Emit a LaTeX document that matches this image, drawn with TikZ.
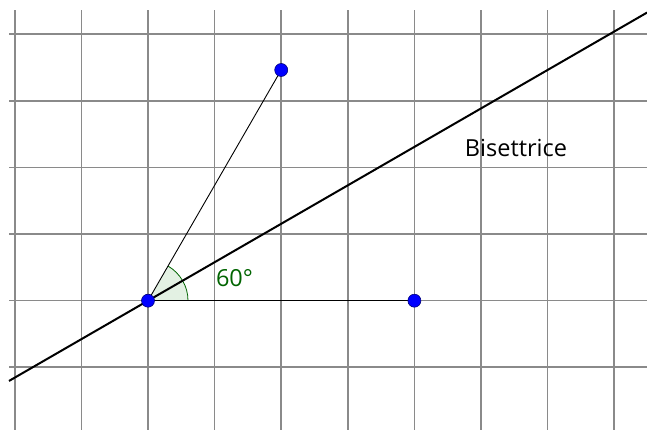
\documentclass[tikz,border=0pt]{standalone}
\usepackage{fontspec}
\setmainfont{Open Sans}
\usetikzlibrary{calc}
\definecolor{gridgray}{HTML}{8A8A8A}
\definecolor{anggreen}{RGB}{0,100,0}
\definecolor{angfill}{HTML}{E3F1E3}
\definecolor{ptblue}{HTML}{0000FF}
\definecolor{ptedge}{HTML}{00007A}
\tikzset{
  gridline/.style={draw=gridgray,line width=1.6pt},
  bisline/.style={draw=black,line width=2pt},
  segline/.style={draw=black,line width=0.9pt},
  pt/.style={circle,fill=ptblue,draw=ptedge,line width=0.6pt,minimum size=13pt,inner sep=0pt},
  lbl/.style={font=\fontsize{23.5}{28}\selectfont,inner sep=0pt,anchor=base}
}
\begin{document}
\begin{tikzpicture}[x=1pt,y=1pt]
\useasboundingbox (0,0) rectangle (647,430);
% grid
\foreach \gx in {14.8,81.4,148,214.6,281.2,347.8,414.4,481,547.6,614.2}
  \draw[gridline] (\gx,0) -- (\gx,420);
\foreach \gy in {62.7,129.3,195.9,262.5,329.1,395.7}
  \draw[gridline] (9,\gy) -- (647,\gy);
% points
\coordinate (A) at (148,129.3);
\coordinate (B) at (414.4,129.3);
\coordinate (C) at (281.2,360);
\coordinate (L) at (9,49.05);
\coordinate (R) at (647,417.4);
% angle
\fill[angfill] (A) -- ++(0:40) arc (0:60:40) -- cycle;
\draw[anggreen,line width=0.8pt] ($(A)+(0:40)$) arc (0:60:40);
% lines
\draw[segline] (A) -- (B);
\draw[segline] (A) -- (C);
\draw[bisline] (L) -- (R);
% dots
\node[pt] (pA) at (A) {};
\node[pt] (pB) at (B) {};
\node[pt] (pC) at (C) {};
% labels
\node[lbl,text=anggreen] (ang) at (234.5,143) {60°};
\node[lbl] (bis) at (516,273.5) {Bisettrice};
\end{tikzpicture}
\end{document}
